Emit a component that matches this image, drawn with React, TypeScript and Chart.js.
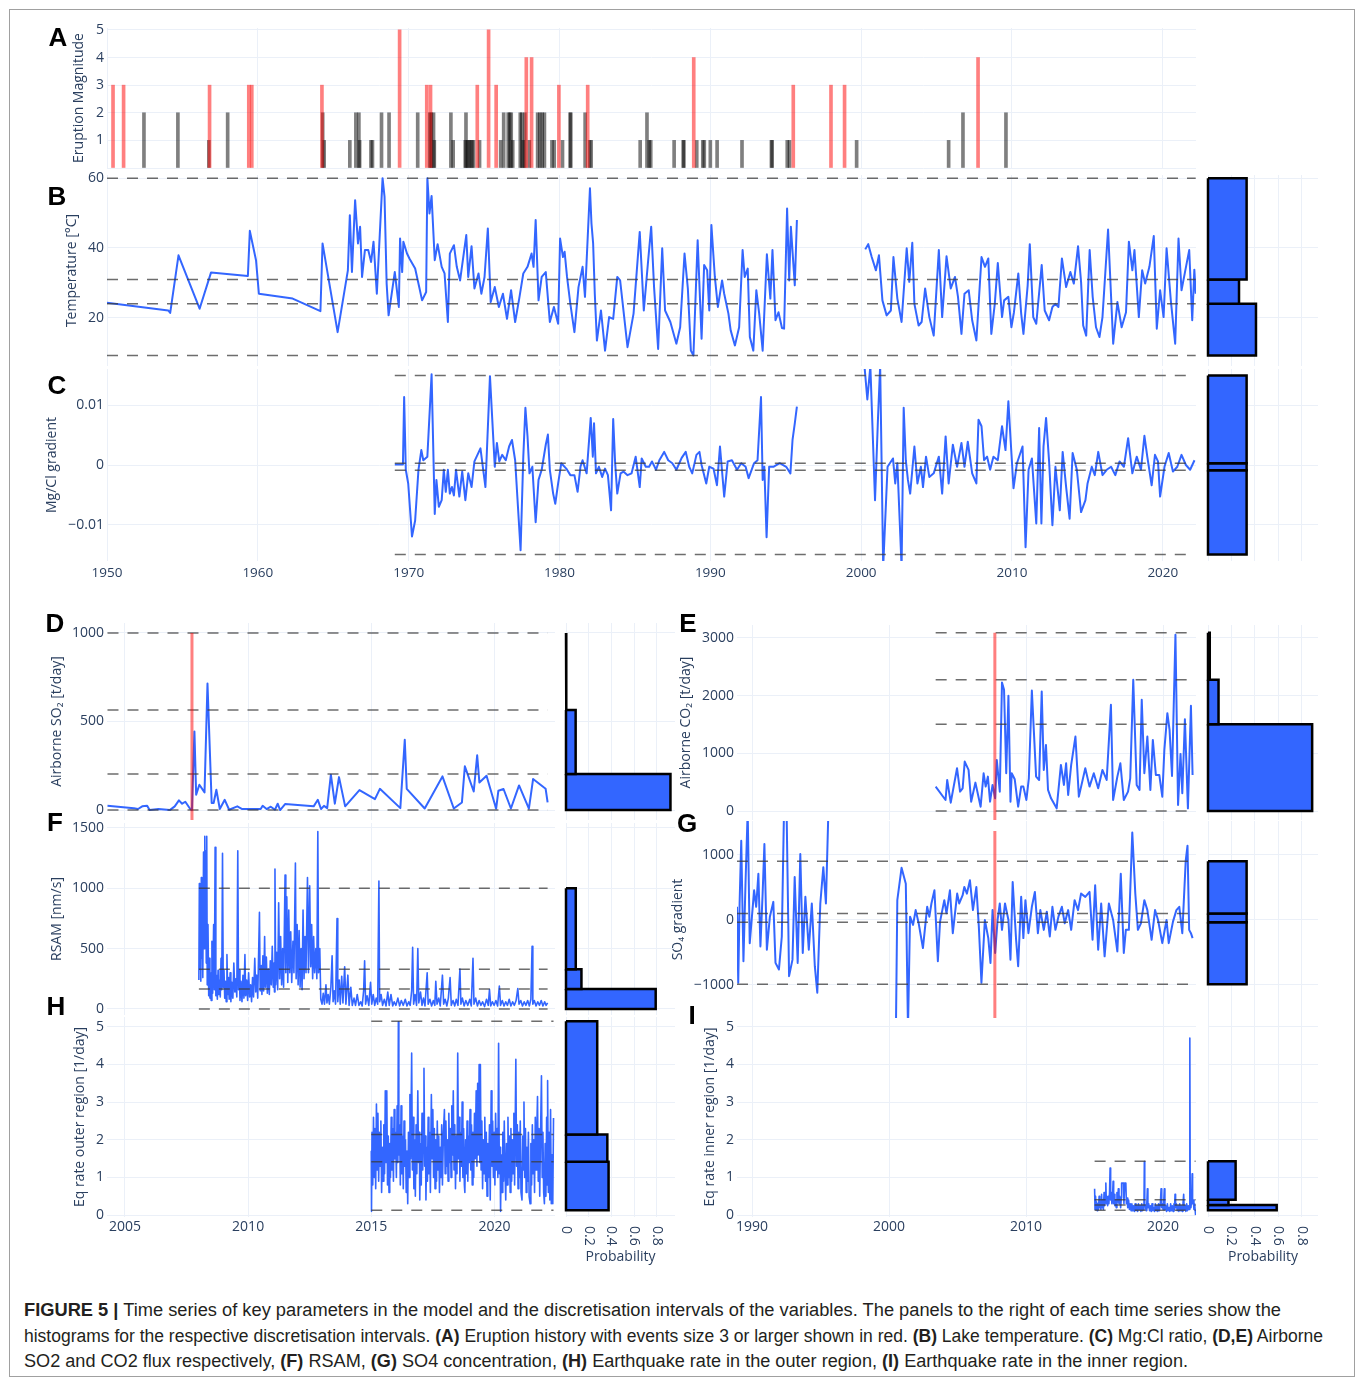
import React, { useEffect, useLayoutEffect, useRef } from "react";
import { Chart, registerables } from "chart.js";

Chart.register(...registerables);

type Pair = [number, number | null];

// ---------------- DATA ----------------
// Panel A: eruption history (year, magnitude)
const eruptionYears = [
  1950.4, 1951.1, 1952.45, 1954.7, 1956.75, 1956.8, 1958.0, 1959.4, 1959.6, 1964.25, 1964.3, 1964.4,
  1966.1, 1966.5, 1966.7, 1966.75, 1967.5, 1967.6, 1968.2, 1968.7, 1969.4, 1970.6, 1971.2, 1971.4,
  1971.45, 1971.5, 1971.65, 1971.7, 1972.8, 1972.95, 1973.75, 1973.8, 1973.9, 1974.0, 1974.1, 1974.2,
  1974.3, 1974.55, 1974.7, 1975.3, 1975.8, 1976.1, 1976.3, 1976.6, 1976.7, 1976.8, 1976.9, 1977.4,
  1977.5, 1977.6, 1977.7, 1977.8, 1978.0, 1978.15, 1978.55, 1978.7, 1978.85, 1979.0, 1979.5, 1979.65,
  1979.96, 1980.2, 1980.7, 1980.75, 1981.7, 1981.87, 1982.0, 1982.1, 1985.35, 1985.8, 1985.95, 1986.05,
  1987.6, 1988.2, 1988.25, 1988.9, 1989.1, 1989.5, 1989.6, 1990.0, 1990.45, 1992.1, 1994.05, 1994.1,
  1995.1, 1995.25, 1995.5, 1998.0, 1998.9, 1999.7, 2005.8, 2006.75, 2007.75, 2009.6,
];
const eruptionMagnitudes = [
  3, 3, 2, 2, 1, 3, 2, 3, 3, 3, 2, 1,
  1, 2, 2, 1, 1, 1, 2, 2, 5, 2, 3, 2,
  3, 2, 2, 1, 2, 1, 1, 2, 1, 1, 1, 1,
  1, 3, 1, 5, 3, 1, 2, 2, 2, 2, 1, 2,
  2, 1, 2, 4, 1, 4, 2, 2, 2, 2, 1, 1,
  3, 1, 2, 2, 2, 3, 1, 1, 1, 2, 1, 1,
  1, 1, 1, 4, 1, 1, 1, 1, 1, 1, 1, 1,
  1, 1, 3, 3, 3, 1, 1, 2, 4, 2,
];

// Panel B: lake temperature [°C]
const temperature: Pair[] = [
  [1950.0, 24.3], [1954.06, 22.1], [1954.19, 21.4], [1954.74, 37.9], [1956.14, 22.6], [1956.9, 33.0],
  [1959.34, 32.0], [1959.47, 44.9], [1959.88, 36.5], [1960.07, 26.9], [1962.31, 25.5], [1964.15, 21.9],
  [1964.29, 41.3], [1965.29, 15.9], [1965.97, 33.6], [1966.1, 49.4], [1966.24, 33.1], [1966.45, 53.7],
  [1966.64, 41.3], [1966.78, 46.1], [1966.91, 31.7], [1967.1, 39.4], [1967.32, 39.4], [1967.51, 36.0],
  [1967.67, 41.8], [1967.89, 26.9], [1968.27, 60.0], [1968.4, 54.7], [1968.54, 29.8], [1968.67, 20.7],
  [1969.08, 33.1], [1969.35, 23.1], [1969.43, 42.7], [1969.57, 33.1], [1969.65, 41.8], [1969.89, 38.4],
  [1970.05, 37.0], [1970.43, 34.1], [1970.7, 28.8], [1970.89, 25.0], [1971.16, 27.4], [1971.24, 60.0],
  [1971.38, 49.9], [1971.52, 54.9], [1971.73, 36.5], [1971.92, 41.1], [1972.19, 34.6], [1972.38, 32.7],
  [1972.6, 18.8], [1972.73, 38.4], [1973.0, 40.8], [1973.19, 34.6], [1973.41, 30.7], [1973.82, 43.7],
  [1973.95, 31.7], [1974.17, 40.5], [1974.36, 28.4], [1974.63, 32.7], [1974.82, 26.9], [1975.03, 31.7],
  [1975.25, 45.6], [1975.44, 24.5], [1975.71, 28.8], [1975.98, 23.1], [1976.25, 26.9], [1976.52, 19.7],
  [1976.79, 27.9], [1977.06, 18.8], [1977.33, 25.5], [1977.6, 32.7], [1977.88, 34.6], [1978.15, 38.4],
  [1978.28, 34.6], [1978.42, 48.0], [1978.61, 25.0], [1978.82, 31.7], [1979.09, 33.1], [1979.36, 18.8],
  [1979.63, 23.1], [1979.91, 18.3], [1980.04, 42.7], [1980.23, 37.4], [1980.34, 38.9], [1980.5, 31.7],
  [1980.72, 24.0], [1980.99, 15.9], [1981.26, 28.8], [1981.53, 34.6], [1981.69, 26.0], [1982.02, 57.1],
  [1982.12, 47.0], [1982.23, 41.3], [1982.34, 26.9], [1982.48, 13.5], [1982.75, 22.1], [1983.02, 10.6],
  [1983.29, 20.2], [1983.56, 19.7], [1983.83, 31.7], [1984.02, 30.7], [1984.51, 11.6], [1984.91, 21.2],
  [1985.32, 44.6], [1985.59, 22.1], [1985.86, 35.5], [1986.08, 46.1], [1986.27, 28.8], [1986.54, 11.1],
  [1986.81, 39.9], [1987.0, 22.1], [1987.35, 18.8], [1987.75, 12.6], [1988.0, 17.3], [1988.29, 38.4],
  [1988.51, 28.4], [1988.71, 10.6], [1988.88, 9.2], [1989.16, 42.2], [1989.42, 14.0], [1989.59, 35.1],
  [1989.79, 33.6], [1989.93, 22.1], [1990.07, 46.6], [1990.3, 31.7], [1990.5, 23.1], [1990.78, 30.7],
  [1990.92, 26.9], [1991.2, 21.2], [1991.35, 16.4], [1991.63, 12.1], [1991.91, 17.3], [1992.14, 39.4],
  [1992.28, 31.7], [1992.48, 34.1], [1992.62, 14.5], [1992.85, 10.6], [1993.05, 27.9], [1993.24, 21.2],
  [1993.47, 10.6], [1993.75, 38.2], [1993.98, 25.5], [1994.12, 39.4], [1994.32, 19.3], [1994.52, 21.6],
  [1994.75, 17.1], [1994.89, 16.9], [1995.09, 51.3], [1995.23, 30.7], [1995.34, 46.1], [1995.6, 29.3],
  [1995.74, 48.0], [1998.0, null],
  [2000.27, 39.6], [2000.47, 41.1], [2000.7, 37.4], [2000.98, 33.6], [2001.18, 37.9], [2001.41, 25.0],
  [2001.69, 20.7], [2001.97, 22.1], [2002.14, 37.4], [2002.4, 25.5], [2002.68, 18.8], [2003.02, 39.9],
  [2003.19, 30.3], [2003.39, 41.5], [2003.53, 24.0], [2003.81, 17.8], [2004.01, 18.8], [2004.24, 28.4],
  [2004.52, 20.2], [2004.81, 14.9], [2005.15, 39.4], [2005.37, 20.2], [2005.66, 37.6], [2005.94, 28.4],
  [2006.22, 31.7], [2006.42, 26.0], [2006.65, 15.4], [2006.85, 26.9], [2007.13, 27.9], [2007.36, 19.3],
  [2007.64, 13.5], [2007.98, 37.4], [2008.21, 34.6], [2008.43, 37.0], [2008.63, 15.4], [2008.86, 24.0],
  [2009.06, 35.7], [2009.34, 20.2], [2009.48, 25.0], [2009.76, 26.0], [2009.96, 17.3], [2010.13, 21.6],
  [2010.42, 32.7], [2010.61, 21.2], [2010.76, 15.4], [2011.04, 29.3], [2011.18, 41.1], [2011.41, 20.2],
  [2011.61, 18.3], [2011.97, 35.1], [2012.17, 22.1], [2012.46, 19.3], [2012.68, 23.1], [2012.88, 24.0],
  [2013.08, 23.1], [2013.31, 37.0], [2013.59, 28.8], [2013.87, 33.1], [2014.1, 29.8], [2014.38, 40.5],
  [2014.58, 30.3], [2014.72, 17.8], [2014.92, 14.9], [2015.15, 39.4], [2015.35, 26.0], [2015.57, 17.3],
  [2015.8, 14.5], [2016.0, 20.2], [2016.37, 45.3], [2016.71, 12.6], [2016.99, 24.5], [2017.27, 17.3],
  [2017.56, 21.6], [2017.75, 41.8], [2017.98, 33.6], [2018.12, 39.4], [2018.41, 20.2], [2018.63, 33.6],
  [2018.83, 29.8], [2019.11, 34.6], [2019.4, 43.4], [2019.6, 16.9], [2019.82, 27.9], [2020.05, 20.2],
  [2020.25, 39.9], [2020.53, 25.0], [2020.82, 12.6], [2021.04, 42.7], [2021.24, 27.9], [2021.47, 33.1],
  [2021.75, 39.4], [2021.95, 19.3], [2022.09, 33.8], [2022.18, 26.9],
];

// Panel C: Mg/Cl gradient
const mgclGradient: Pair[] = [
  [1969.08, 0.0001], [1969.62, 0.0001], [1969.7, 0.0114], [1969.81, -0.0008], [1969.97, -0.0031], [1970.22, -0.012],
  [1970.43, -0.0093], [1970.65, -0.0008], [1970.84, 0.0025], [1970.97, 0.0008], [1971.24, 0.0014], [1971.52, 0.0152],
  [1971.73, -0.0082], [1971.84, -0.0025], [1972.0, -0.007], [1972.19, -0.0059], [1972.33, -0.0008], [1972.46, -0.0045],
  [1972.6, -0.0008], [1972.73, -0.0048], [1972.87, -0.0037], [1973.0, -0.0051], [1973.14, -0.0008], [1973.36, -0.0053],
  [1973.55, -0.0011], [1973.76, -0.0059], [1973.95, -0.0014], [1974.17, -0.0037], [1974.36, 0.0006], [1974.76, 0.0028],
  [1975.09, -0.0037], [1975.39, 0.0149], [1975.71, -0.0003], [1975.85, 0.0037], [1976.01, 0.0006], [1976.2, 0.0017],
  [1976.44, 0.0008], [1976.66, 0.0031], [1976.85, 0.0042], [1977.06, 0.0008], [1977.42, -0.0143], [1977.6, 0.0014],
  [1977.74, 0.0096], [1977.88, 0.0048], [1978.01, -0.0014], [1978.2, -0.0003], [1978.42, -0.0096], [1978.61, -0.0025],
  [1978.82, -0.0008], [1979.09, 0.0034], [1979.23, 0.0051], [1979.36, -0.0008], [1979.58, -0.0048], [1979.72, -0.0065],
  [1979.91, -0.0031], [1980.12, 0.0003], [1980.45, -0.0006], [1980.72, -0.0017], [1980.99, -0.0017], [1981.2, -0.0045],
  [1981.39, -0.0003], [1981.53, 0.0008], [1981.8, -0.0014], [1982.07, 0.0079], [1982.21, 0.0014], [1982.29, 0.007],
  [1982.42, -0.0014], [1982.61, -0.0003], [1982.83, -0.002], [1983.02, -0.0006], [1983.21, -0.0017], [1983.42, -0.0076],
  [1983.56, 0.0077], [1983.69, 0.0003], [1983.83, -0.0048], [1984.05, -0.0014], [1984.24, -0.0011], [1984.51, -0.0017],
  [1984.78, -0.0014], [1985.05, 0.0014], [1985.32, -0.0037], [1985.45, 0.0011], [1985.72, -0.0003], [1985.94, -0.0003],
  [1986.13, 0.0006], [1986.4, -0.0008], [1986.62, 0.0008], [1986.94, 0.0022], [1987.21, 0.0008], [1987.48, 0.0003],
  [1987.75, -0.0008], [1988.1, 0.0012], [1988.37, 0.0022], [1988.6, -0.0003], [1988.8, -0.0014], [1989.08, 0.0017],
  [1989.28, 0.0022], [1989.42, 0.0], [1989.73, -0.0031], [1989.93, -0.0003], [1990.21, -0.0006], [1990.44, -0.0034],
  [1990.64, 0.0031], [1990.92, -0.0053], [1991.15, 0.0006], [1991.43, 0.0008], [1991.77, -0.0008], [1992.05, 0.0003],
  [1992.34, -0.0003], [1992.54, -0.0022], [1992.9, 0.0003], [1993.13, 0.0008], [1993.36, 0.0114], [1993.47, -0.0025],
  [1993.58, -0.0003], [1993.73, -0.0121], [1993.9, -0.0003], [1994.18, -0.0003], [1994.6, 0.0003], [1995.03, -0.0003],
  [1995.31, -0.0014], [1995.45, 0.0042], [1995.6, 0.007], [1995.74, 0.0098], [1998.0, null],
  [2000.22, 0.0166], [2000.41, 0.011], [2000.61, 0.0166], [2000.92, -0.0059], [2001.12, 0.0081], [2001.26, 0.0166],
  [2001.46, -0.0171], [2001.75, -0.0003], [2002.11, 0.0011], [2002.26, -0.0031], [2002.4, 0.0003], [2002.68, -0.0171],
  [2002.82, 0.0096], [2002.96, 0.0008], [2003.1, -0.0025], [2003.25, -0.0048], [2003.53, 0.0031], [2003.73, -0.0031],
  [2003.96, -0.0003], [2004.1, -0.0037], [2004.3, 0.0014], [2004.52, -0.002], [2004.81, -0.0014], [2005.15, 0.0014],
  [2005.37, -0.0048], [2005.6, 0.0048], [2005.8, -0.0031], [2006.08, 0.0034], [2006.36, -0.0003], [2006.65, 0.0037],
  [2006.85, -0.0003], [2007.07, 0.0039], [2007.36, -0.0014], [2007.64, -0.0031], [2007.78, 0.0076], [2007.98, 0.0065],
  [2008.15, 0.0008], [2008.35, 0.0014], [2008.55, -0.0008], [2008.77, 0.0014], [2009.06, 0.0008], [2009.34, 0.0065],
  [2009.57, 0.0025], [2009.76, 0.0107], [2009.91, 0.0042], [2010.1, -0.0039], [2010.33, 0.0003], [2010.7, 0.0031],
  [2010.9, -0.0138], [2011.1, -0.0008], [2011.32, 0.0011], [2011.61, -0.0098], [2011.8, 0.0062], [2011.95, -0.0098],
  [2012.09, 0.0031], [2012.26, 0.0079], [2012.46, 0.0006], [2012.68, -0.0101], [2012.88, -0.0003], [2013.17, -0.0076],
  [2013.36, 0.0022], [2013.59, -0.0037], [2013.82, -0.009], [2014.02, 0.002], [2014.3, -0.0008], [2014.58, -0.0079],
  [2014.87, -0.0059], [2015.01, -0.0031], [2015.29, -0.0003], [2015.49, -0.0017], [2015.72, 0.0022], [2016.0, -0.0017],
  [2016.28, -0.0008], [2016.57, -0.0003], [2016.85, -0.0017], [2017.13, 0.0006], [2017.42, -0.0003], [2017.7, 0.0045],
  [2017.98, -0.0014], [2018.27, 0.0014], [2018.55, -0.0008], [2018.78, 0.0049], [2018.97, 0.0014], [2019.26, -0.0034],
  [2019.48, 0.0017], [2019.68, 0.0006], [2019.82, -0.0053], [2020.11, -0.0003], [2020.39, 0.002], [2020.67, -0.0011],
  [2020.96, -0.0003], [2021.24, 0.0017], [2021.53, 0.0], [2021.81, -0.0008], [2022.1, 0.0008],
];

// Panel D: airborne SO2 [t/day]
const so2Flux: Pair[] = [
  [2004.29, 24], [2005.36, 11], [2005.53, 6], [2005.7, 21], [2005.9, 24], [2006.0, 0], [2006.36, 6], [2006.82, 0],
  [2007.02, 21], [2007.19, 55], [2007.32, 36], [2007.45, 47], [2007.65, 6], [2007.72, 0], [2007.82, 444], [2007.89, 87],
  [2008.02, 143], [2008.23, 100], [2008.35, 714], [2008.52, 40], [2008.6, 40], [2008.71, 115], [2008.85, 6], [2009.05, 58],
  [2009.23, 2], [2009.56, 21], [2009.76, 6], [2010.51, 6], [2010.59, 24], [2010.75, 6], [2010.92, 19], [2011.09, 2],
  [2011.2, 36], [2011.3, 0], [2011.5, 34], [2012.66, 21], [2012.83, 58], [2012.96, 6], [2013.08, 24], [2013.21, 11],
  [2013.36, 200], [2013.52, 36], [2013.69, 186], [2013.94, 21], [2014.52, 113], [2015.15, 62], [2015.35, 120], [2016.18, 11],
  [2016.36, 397], [2016.44, 120], [2017.17, 9], [2017.89, 190], [2018.35, 9], [2018.68, 43], [2018.8, 247], [2019.16, 105],
  [2019.3, 309], [2019.39, 156], [2019.68, 194], [2020.07, 8], [2020.16, 109], [2020.37, 119], [2020.67, 9], [2021.0, 139],
  [2021.4, 8], [2021.57, 175], [2022.08, 120], [2022.16, 43],
];

// Panel F: RSAM [nm/s]
const rsam: Pair[] = [
  [2008.0, 240], [2008.02, 1040], [2008.04, 330], [2008.06, 990], [2008.08, 230], [2008.1, 1090], [2008.12, 420], [2008.14, 880],
  [2008.16, 260], [2008.19, 1300], [2008.21, 500], [2008.24, 1430], [2008.26, 700], [2008.28, 1310], [2008.3, 380], [2008.32, 1430],
  [2008.34, 200], [2008.37, 700], [2008.4, 110], [2008.43, 420], [2008.45, 90], [2008.48, 300], [2008.5, 70], [2008.53, 560],
  [2008.56, 130], [2008.6, 700], [2008.63, 160], [2008.66, 1340], [2008.69, 110], [2008.72, 280], [2008.75, 80], [2008.78, 320],
  [2008.81, 120], [2008.84, 240], [2008.87, 100], [2008.9, 420], [2008.93, 160], [2008.96, 1290], [2008.99, 180], [2009.02, 320],
  [2009.05, 90], [2009.08, 230], [2009.11, 60], [2009.14, 450], [2009.17, 120], [2009.2, 260], [2009.23, 80], [2009.27, 300],
  [2009.3, 60], [2009.34, 220], [2009.38, 90], [2009.42, 380], [2009.46, 140], [2009.5, 250], [2009.54, 100], [2009.58, 1310],
  [2009.61, 160], [2009.64, 320], [2009.67, 70], [2009.71, 230], [2009.75, 60], [2009.79, 280], [2009.83, 90], [2009.87, 450],
  [2009.9, 110], [2009.94, 240], [2009.98, 70], [2010.02, 300], [2010.06, 100], [2010.1, 200], [2010.14, 60], [2010.18, 260],
  [2010.22, 100], [2010.27, 420], [2010.31, 140], [2010.35, 280], [2010.39, 90], [2010.46, 800], [2010.49, 150], [2010.53, 360],
  [2010.56, 120], [2010.6, 440], [2010.63, 150], [2010.67, 600], [2010.7, 180], [2010.74, 430], [2010.78, 130], [2010.82, 330],
  [2010.86, 120], [2010.9, 400], [2010.94, 200], [2010.98, 520], [2011.02, 180], [2011.05, 380], [2011.07, 140], [2011.09, 1160],
  [2011.12, 200], [2011.16, 470], [2011.2, 160], [2011.24, 880], [2011.28, 250], [2011.32, 600], [2011.36, 200], [2011.4, 500],
  [2011.44, 180], [2011.5, 1110], [2011.53, 300], [2011.57, 930], [2011.61, 220], [2011.65, 820], [2011.69, 300], [2011.73, 640],
  [2011.77, 220], [2011.82, 560], [2011.86, 300], [2011.92, 1210], [2011.95, 250], [2011.99, 700], [2012.03, 200], [2012.07, 650],
  [2012.11, 180], [2012.15, 500], [2012.19, 160], [2012.23, 820], [2012.27, 250], [2012.31, 600], [2012.35, 300], [2012.41, 1090],
  [2012.45, 300], [2012.5, 1020], [2012.54, 350], [2012.58, 700], [2012.62, 250], [2012.66, 600], [2012.7, 300], [2012.75, 500],
  [2012.79, 250], [2012.83, 1470], [2012.86, 300], [2012.91, 500], [2012.95, 80], [2013.0, 40], [2013.05, 130], [2013.1, 40],
  [2013.16, 200], [2013.2, 50], [2013.25, 120], [2013.3, 40], [2013.36, 180], [2013.41, 440], [2013.45, 60], [2013.5, 150],
  [2013.55, 40], [2013.61, 750], [2013.64, 60], [2013.7, 240], [2013.74, 40], [2013.8, 270], [2013.85, 50], [2013.92, 350],
  [2013.97, 40], [2014.05, 280], [2014.1, 30], [2014.17, 180], [2014.23, 30], [2014.3, 90], [2014.36, 30], [2014.43, 120],
  [2014.5, 30], [2014.57, 60], [2014.63, 25], [2014.69, 150], [2014.73, 400], [2014.77, 40], [2014.83, 110], [2014.9, 30],
  [2014.97, 220], [2015.02, 40], [2015.08, 120], [2015.14, 30], [2015.2, 90], [2015.26, 40], [2015.31, 1060], [2015.34, 60],
  [2015.4, 120], [2015.46, 30], [2015.53, 80], [2015.6, 25], [2015.67, 140], [2015.73, 30], [2015.8, 120], [2015.87, 25],
  [2015.93, 60], [2016.0, 30], [2016.08, 90], [2016.15, 25], [2016.22, 70], [2016.3, 30], [2016.38, 80], [2016.45, 25],
  [2016.52, 60], [2016.58, 30], [2016.64, 150], [2016.68, 510], [2016.72, 40], [2016.78, 120], [2016.84, 30], [2016.89, 500],
  [2016.93, 50], [2017.0, 140], [2017.06, 30], [2017.12, 90], [2017.18, 25], [2017.27, 300], [2017.31, 40], [2017.38, 80],
  [2017.45, 25], [2017.52, 70], [2017.58, 30], [2017.62, 230], [2017.67, 40], [2017.74, 90], [2017.8, 25], [2017.89, 280],
  [2017.94, 40], [2018.0, 80], [2018.07, 25], [2018.13, 90], [2018.2, 260], [2018.25, 30], [2018.32, 70], [2018.39, 25],
  [2018.45, 80], [2018.52, 30], [2018.6, 330], [2018.64, 40], [2018.7, 90], [2018.77, 25], [2018.84, 70], [2018.92, 30],
  [2019.0, 80], [2019.06, 25], [2019.13, 420], [2019.17, 40], [2019.24, 90], [2019.31, 25], [2019.38, 70], [2019.45, 30],
  [2019.52, 60], [2019.6, 20], [2019.68, 80], [2019.75, 30], [2019.8, 160], [2019.85, 25], [2019.92, 60], [2019.99, 30],
  [2020.06, 70], [2020.13, 25], [2020.2, 190], [2020.25, 30], [2020.32, 70], [2020.39, 25], [2020.46, 60], [2020.53, 30],
  [2020.6, 80], [2020.67, 25], [2020.74, 60], [2020.81, 30], [2020.88, 70], [2020.95, 170], [2021.0, 40], [2021.07, 70],
  [2021.14, 25], [2021.21, 60], [2021.28, 30], [2021.35, 70], [2021.42, 25], [2021.48, 80], [2021.53, 520], [2021.56, 40],
  [2021.62, 70], [2021.69, 25], [2021.76, 60], [2021.83, 30], [2021.9, 70], [2021.97, 25], [2022.04, 60], [2022.1, 30],
  [2022.16, 50],
];

// Panel H: earthquake rate, outer region [1/day]
const eqOuter: Pair[] = [
  [2015.0, 1.7], [2015.01, 0.1], [2015.03, 2.2], [2015.06, 0.8], [2015.09, 2.6], [2015.12, 1.0], [2015.15, 2.3], [2015.18, 0.7],
  [2015.21, 2.95], [2015.24, 1.2], [2015.27, 2.7], [2015.3, 0.9], [2015.33, 2.2], [2015.36, 1.3], [2015.39, 2.5], [2015.42, 0.6],
  [2015.45, 1.8], [2015.48, 0.9], [2015.51, 2.4], [2015.54, 1.1], [2015.57, 3.3], [2015.6, 1.4], [2015.63, 3.3], [2015.66, 0.8],
  [2015.69, 2.1], [2015.72, 0.6], [2015.75, 1.9], [2015.78, 1.0], [2015.81, 2.6], [2015.84, 1.2], [2015.87, 2.3], [2015.9, 0.9],
  [2015.93, 2.8], [2015.96, 1.5], [2015.99, 2.2], [2016.02, 1.0], [2016.05, 2.9], [2016.08, 1.4], [2016.1, 5.13], [2016.12, 1.6],
  [2016.15, 2.4], [2016.18, 0.8], [2016.21, 2.9], [2016.24, 1.1], [2016.27, 2.1], [2016.3, 0.7], [2016.33, 2.5], [2016.36, 1.3],
  [2016.39, 2.0], [2016.42, 0.6], [2016.45, 1.7], [2016.48, 0.3], [2016.51, 2.2], [2016.54, 1.0], [2016.57, 3.2], [2016.6, 1.5],
  [2016.64, 4.3], [2016.67, 1.2], [2016.7, 2.6], [2016.73, 0.7], [2016.76, 2.0], [2016.79, 0.5], [2016.82, 2.4], [2016.85, 1.1],
  [2016.89, 3.3], [2016.92, 1.4], [2016.95, 2.2], [2016.97, 0.4], [2017.0, 1.9], [2017.03, 0.8], [2017.06, 2.7], [2017.09, 1.2],
  [2017.12, 2.4], [2017.14, 3.9], [2017.17, 1.3], [2017.2, 2.1], [2017.22, 0.4], [2017.25, 1.8], [2017.28, 0.9], [2017.31, 2.6],
  [2017.34, 1.1], [2017.37, 2.2], [2017.4, 0.6], [2017.44, 3.2], [2017.47, 1.5], [2017.5, 2.8], [2017.53, 1.0], [2017.56, 2.3],
  [2017.59, 0.7], [2017.62, 2.0], [2017.65, 0.9], [2017.68, 2.5], [2017.71, 1.2], [2017.74, 2.1], [2017.77, 0.6], [2017.8, 1.8],
  [2017.83, 1.0], [2017.86, 2.4], [2017.89, 0.8], [2017.93, 2.2], [2017.97, 2.8], [2018.0, 1.1], [2018.03, 2.5], [2018.06, 1.3],
  [2018.09, 2.0], [2018.12, 0.9], [2018.15, 2.7], [2018.18, 1.4], [2018.21, 2.3], [2018.24, 1.0], [2018.27, 2.9], [2018.3, 1.6],
  [2018.33, 3.3], [2018.36, 1.2], [2018.39, 2.4], [2018.42, 0.7], [2018.45, 2.1], [2018.48, 1.1], [2018.51, 4.3], [2018.54, 1.5],
  [2018.57, 2.6], [2018.6, 0.9], [2018.63, 2.2], [2018.66, 1.3], [2018.69, 3.0], [2018.72, 1.0], [2018.75, 2.3], [2018.78, 0.8],
  [2018.8, 0.6], [2018.83, 2.0], [2018.86, 1.1], [2018.89, 2.5], [2018.92, 0.9], [2018.95, 2.1], [2018.98, 1.4], [2019.01, 2.8],
  [2019.04, 1.2], [2019.07, 2.4], [2019.1, 0.8], [2019.13, 2.2], [2019.16, 1.0], [2019.19, 2.7], [2019.22, 1.5], [2019.26, 3.3],
  [2019.29, 1.3], [2019.32, 3.5], [2019.35, 1.6], [2019.38, 4.0], [2019.41, 1.4], [2019.43, 4.0], [2019.46, 1.2], [2019.49, 2.5],
  [2019.52, 0.7], [2019.55, 2.0], [2019.58, 1.1], [2019.61, 2.6], [2019.64, 0.9], [2019.67, 2.2], [2019.7, 0.5], [2019.73, 1.9],
  [2019.76, 1.0], [2019.8, 2.4], [2019.83, 0.4], [2019.87, 3.3], [2019.9, 1.3], [2019.93, 2.5], [2019.96, 1.0], [2019.99, 2.2],
  [2020.02, 0.8], [2020.05, 2.7], [2020.08, 1.2], [2020.11, 2.3], [2020.14, 1.0], [2020.17, 4.56], [2020.2, 1.1], [2020.23, 1.8],
  [2020.25, 0.1], [2020.28, 1.6], [2020.31, 0.6], [2020.34, 2.2], [2020.37, 0.9], [2020.4, 2.5], [2020.43, 1.2], [2020.46, 0.4],
  [2020.49, 1.9], [2020.52, 0.8], [2020.55, 2.6], [2020.58, 1.0], [2020.61, 2.1], [2020.64, 0.6], [2020.67, 2.3], [2020.7, 0.9],
  [2020.73, 2.0], [2020.76, 1.1], [2020.79, 2.7], [2020.82, 0.8], [2020.87, 4.14], [2020.9, 1.3], [2020.93, 2.4], [2020.96, 0.7],
  [2020.99, 2.2], [2021.02, 1.0], [2021.05, 2.5], [2021.08, 0.6], [2021.12, 0.4], [2021.15, 2.1], [2021.18, 1.2], [2021.2, 3.0],
  [2021.23, 1.0], [2021.26, 2.3], [2021.29, 0.6], [2021.32, 1.8], [2021.35, 0.9], [2021.38, 2.2], [2021.41, 0.5], [2021.45, 0.3],
  [2021.48, 1.9], [2021.51, 0.8], [2021.54, 2.4], [2021.57, 1.1], [2021.6, 2.0], [2021.63, 0.6], [2021.66, 2.6], [2021.69, 1.2],
  [2021.72, 2.2], [2021.75, 3.15], [2021.78, 0.9], [2021.81, 2.3], [2021.84, 0.5], [2021.87, 2.0], [2021.91, 3.7], [2021.94, 1.0],
  [2021.97, 2.2], [2022.0, 0.6], [2022.03, 0.3], [2022.06, 1.9], [2022.09, 0.5], [2022.12, 2.6], [2022.14, 0.8], [2022.16, 3.57],
  [2022.19, 0.6], [2022.22, 2.2], [2022.25, 0.4], [2022.28, 2.8], [2022.31, 0.3], [2022.34, 1.6], [2022.37, 0.3], [2022.4, 2.58],
];

// Panel E: airborne CO2 [t/day]
const co2Flux: Pair[] = [
  [2003.4, 423], [2004.12, 191], [2004.24, 538], [2004.5, 145], [2004.96, 741], [2005.18, 336], [2005.37, 394], [2005.52, 857],
  [2005.8, 712], [2005.99, 162], [2006.3, 492], [2006.68, 75], [2006.9, 654], [2007.05, 423], [2007.21, 596], [2007.37, 162],
  [2007.55, 452], [2007.74, 220], [2007.86, 886], [2008.08, 336], [2008.24, 2229], [2008.39, 2102], [2008.55, 654], [2008.71, 1998],
  [2008.86, 162], [2008.95, 654], [2009.17, 550], [2009.42, 75], [2009.64, 423], [2009.8, 423], [2010.02, 191], [2010.2, 567],
  [2010.42, 2090], [2010.73, 596], [2010.95, 538], [2011.14, 2073], [2011.29, 712], [2011.45, 1146], [2011.6, 365], [2011.82, 220],
  [2012.23, 46], [2012.54, 799], [2012.76, 452], [2012.92, 828], [2013.07, 278], [2013.29, 799], [2013.6, 1291], [2013.85, 249],
  [2014.32, 741], [2014.63, 423], [2014.94, 654], [2015.26, 394], [2015.57, 712], [2015.88, 538], [2016.19, 1841], [2016.35, 191],
  [2016.66, 596], [2016.88, 828], [2017.13, 191], [2017.44, 336], [2017.6, 567], [2017.82, 2275], [2018.07, 452], [2018.28, 365],
  [2018.44, 1928], [2018.63, 654], [2018.85, 1291], [2019.07, 365], [2019.25, 1233], [2019.47, 625], [2019.72, 625], [2019.94, 249],
  [2020.09, 1060], [2020.31, 1696], [2020.47, 1407], [2020.65, 608], [2020.9, 3057], [2021.09, 104], [2021.27, 990], [2021.4, 307],
  [2021.59, 1592], [2021.81, 46], [2022.03, 1824], [2022.15, 625],
];

// Panel G: SO4 gradient
const so4Gradient: Pair[] = [
  [1988.9, 203], [1988.99, -965], [1989.09, 254], [1989.21, 1219], [1989.37, -635], [1989.52, 559], [1989.68, 1676], [1989.83, -356],
  [1989.99, 51], [1990.15, 457], [1990.3, 203], [1990.46, 711], [1990.61, -406], [1990.77, 406], [1990.9, 1168], [1991.08, -457],
  [1991.3, 51], [1991.55, 279], [1991.71, -660], [1991.96, -762], [1992.17, -254], [1992.33, 1676], [1992.52, 1676], [1992.7, -864],
  [1992.95, -610], [1993.11, 660], [1993.33, -660], [1993.52, 1016], [1993.7, -508], [1993.89, 356], [1994.14, -457], [1994.36, 254],
  [1994.58, -711], [1994.76, -1118], [1994.98, 254], [1995.2, 813], [1995.39, 254], [1995.57, 1676], [1998.0, null],
  [2000.5, -1676], [2000.6, 305], [2000.91, 803], [2001.22, 559], [2001.38, -1676], [2001.53, 51], [2001.75, -76], [2001.94, 152],
  [2002.16, -51], [2002.47, -432], [2002.78, 203], [2002.94, 51], [2003.09, 254], [2003.31, 457], [2003.56, -635], [2003.72, -25],
  [2004.03, 305], [2004.19, 102], [2004.44, 457], [2004.65, -203], [2004.97, 406], [2005.12, 254], [2005.37, 381], [2005.49, 508],
  [2005.68, 406], [2005.9, 610], [2006.12, 152], [2006.37, 508], [2006.55, -102], [2006.74, -965], [2006.99, 0], [2007.24, -279],
  [2007.4, -660], [2007.55, 152], [2007.74, -508], [2007.92, 0], [2008.08, 254], [2008.24, -152], [2008.46, 254], [2008.71, 0],
  [2008.86, -610], [2009.02, 584], [2009.27, -305], [2009.42, -711], [2009.64, 356], [2009.8, -279], [2009.95, 305], [2010.17, -203],
  [2010.42, 203], [2010.64, 432], [2010.86, -203], [2011.04, 152], [2011.29, -152], [2011.51, 127], [2011.73, -254], [2011.92, 203],
  [2012.14, -152], [2012.36, 51], [2012.61, 203], [2012.82, -51], [2013.07, 152], [2013.29, -152], [2013.54, 305], [2013.79, 152],
  [2014.01, 406], [2014.32, 356], [2014.63, 432], [2014.85, -305], [2015.04, 533], [2015.26, -457], [2015.48, 254], [2015.73, -559],
  [2016.04, 254], [2016.35, 0], [2016.66, -483], [2016.91, 711], [2017.13, -508], [2017.28, -152], [2017.5, -152], [2017.75, 1346],
  [2017.97, 406], [2018.16, -152], [2018.38, -51], [2018.63, 305], [2018.85, 152], [2019.16, -305], [2019.41, 152], [2019.63, 0],
  [2019.94, -356], [2020.25, 0], [2020.41, -356], [2020.72, -25], [2020.97, 152], [2021.18, 203], [2021.4, -203], [2021.65, 914],
  [2021.78, 1143], [2021.9, -152], [2022.03, -203], [2022.15, -279],
];

// Panel I: earthquake rate, inner region [1/day]
const eqInner: Pair[] = [
  [2015.0, 0.7], [2015.03, 0.15], [2015.07, 0.5], [2015.11, 0.15], [2015.15, 0.35], [2015.19, 0.12], [2015.24, 0.3], [2015.28, 0.15],
  [2015.33, 0.5], [2015.37, 0.2], [2015.42, 0.3], [2015.46, 0.15], [2015.51, 0.55], [2015.55, 0.2], [2015.6, 0.4], [2015.64, 0.15],
  [2015.69, 0.6], [2015.73, 0.25], [2015.78, 0.5], [2015.82, 0.85], [2015.86, 0.3], [2015.9, 0.5], [2015.95, 0.25], [2016.0, 0.5],
  [2016.04, 0.3], [2016.09, 0.6], [2016.13, 1.25], [2016.17, 0.4], [2016.22, 0.6], [2016.26, 0.3], [2016.31, 0.5], [2016.35, 0.9],
  [2016.39, 0.3], [2016.44, 0.55], [2016.48, 0.25], [2016.53, 0.4], [2016.58, 0.2], [2016.63, 0.6], [2016.68, 0.35], [2016.73, 0.7],
  [2016.78, 0.3], [2016.84, 0.5], [2016.9, 0.2], [2016.95, 0.45], [2016.97, 0.85], [2017.1, 0.85], [2017.14, 0.3], [2017.2, 0.85],
  [2017.28, 0.85], [2017.32, 0.3], [2017.37, 0.45], [2017.42, 0.2], [2017.48, 0.4], [2017.54, 0.15], [2017.6, 0.3], [2017.66, 0.12],
  [2017.72, 0.3], [2017.78, 0.12], [2017.84, 0.25], [2017.9, 0.1], [2017.96, 0.3], [2018.02, 0.12], [2018.08, 0.25], [2018.14, 0.1],
  [2018.2, 0.3], [2018.26, 0.15], [2018.32, 0.25], [2018.38, 0.1], [2018.44, 0.3], [2018.5, 0.12], [2018.56, 0.25], [2018.6, 0.15],
  [2018.63, 1.42], [2018.66, 0.3], [2018.71, 0.25], [2018.76, 0.12], [2018.81, 0.3], [2018.85, 0.7], [2018.89, 0.2], [2018.95, 0.3],
  [2019.01, 0.12], [2019.07, 0.25], [2019.13, 0.1], [2019.19, 0.3], [2019.25, 0.12], [2019.31, 0.2], [2019.37, 0.1], [2019.43, 0.3],
  [2019.49, 0.12], [2019.55, 0.25], [2019.61, 0.1], [2019.67, 0.3], [2019.73, 0.12], [2019.8, 0.3], [2019.85, 0.7], [2019.9, 0.2],
  [2019.95, 0.3], [2020.0, 0.15], [2020.05, 0.4], [2020.09, 0.7], [2020.13, 0.15], [2020.19, 0.25], [2020.25, 0.1], [2020.31, 0.3],
  [2020.37, 0.12], [2020.43, 0.2], [2020.49, 0.1], [2020.55, 0.3], [2020.61, 0.12], [2020.67, 0.25], [2020.73, 0.1], [2020.79, 0.3],
  [2020.83, 0.15], [2020.87, 0.55], [2020.91, 0.2], [2020.97, 0.3], [2021.03, 0.12], [2021.09, 0.25], [2021.15, 0.1], [2021.21, 0.3],
  [2021.27, 0.12], [2021.33, 0.25], [2021.39, 0.1], [2021.45, 0.3], [2021.5, 0.55], [2021.54, 0.15], [2021.6, 0.25], [2021.66, 0.1],
  [2021.72, 0.3], [2021.78, 0.12], [2021.84, 0.25], [2021.9, 0.15], [2021.94, 0.3], [2021.96, 4.7], [2021.98, 0.3], [2022.03, 0.2],
  [2022.08, 0.4], [2022.12, 1.1], [2022.15, 0.3], [2022.2, 0.4], [2022.25, 0.15], [2022.3, 0.3], [2022.37, 0.0],
];

// Discretisation interval edges and histogram probabilities
const tempEdges = [60, 31, 24, 9.2];
const tempProbs = [0.33, 0.265, 0.41];
const mgclEdges = [0.015, 0.0003, -0.0009, -0.015];
const mgclProbs = [0.33, 0.33, 0.33];
const so2Edges = [1000, 565, 203, 0];
const so2Probs = [0.005, 0.085, 0.92];
const rsamEdges = [1000, 330, 165, 0];
const rsamProbs = [0.086, 0.136, 0.79];
const eqOuterEdges = [5.15, 2.14, 1.42, 0.13];
const eqOuterProbs = [0.275, 0.364, 0.375];
const co2Edges = [3090, 2275, 1505, 0];
const co2Probs = [0.015, 0.09, 0.89];
const so4Edges = [905, 100, -35, -990];
const so4Probs = [0.33, 0.33, 0.33];
const eqInnerEdges = [1.43, 0.41, 0.27, 0.13];
const eqInnerProbs = [0.236, 0.175, 0.587];

// 2007 eruption marker
const markerYear = 2007.72;
const markerTopSO2 = 1000;
const markerTopCO2 = 3090;
const markerTopSO4 = 1370;

// Tick values
const ticksTopX = [1950, 1960, 1970, 1980, 1990, 2000, 2010, 2020];
const ticksLeftX = [2005, 2010, 2015, 2020];
const ticksRightX = [1990, 2000, 2010, 2020];
const probTicks = [0, 0.2, 0.4, 0.6, 0.8];
const ticksA = [0, 1, 2, 3, 4, 5];
const ticksB = [20, 40, 60];
const ticksC = [-0.01, 0, 0.01];
const ticksD = [0, 500, 1000];
const ticksF = [0, 500, 1000, 1500];
const ticksH = [0, 1, 2, 3, 4, 5];
const ticksE = [0, 1000, 2000, 3000];
const ticksG = [-1000, 0, 1000];

// ---------------- STYLE ----------------
const FONT = "'Open Sans', 'Noto Sans', sans-serif";
const TXT = "#2a3f5f";
const GRID = "#ebf0f8";
const BLUE = "#3366ff";
const RED = "rgba(255,0,0,0.5)";
const GREYBAR = "rgba(0,0,0,0.5)";
const DASH = "rgba(60,60,60,0.75)";

type Frame = { L: number; T: number; R: number; B: number; ml: number; mt: number; mr: number; mb: number };

const fmt = (v: number) => {
  const s = String(Math.round(v * 1e6) / 1e6);
  return v < 0 ? "\u2212" + s.slice(1) : s;
};

const toXY = (a: Pair[]) => a.map(([x, y]) => ({ x, y }));

const seriesDs = (a: Pair[], w = 2) => ({
  data: toXY(a),
  borderColor: BLUE,
  borderWidth: w,
  pointRadius: 0,
  spanGaps: false,
  fill: false,
  borderJoinStyle: "round",
  order: 3,
});

const dashDs = (edges: number[], a: Pair[]) => {
  const x0 = a[0][0];
  const x1 = a[a.length - 1][0];
  return edges.map((e) => ({
    data: [{ x: x0, y: e }, { x: x1, y: e }],
    borderColor: DASH,
    borderWidth: 1.5,
    borderDash: [11, 9],
    pointRadius: 0,
    fill: false,
    order: 2,
  }));
};

const markerDs = (top: number, bottom: number) => ({
  data: [{ x: markerYear, y: bottom }, { x: markerYear, y: top }],
  borderColor: RED,
  borderWidth: 3,
  pointRadius: 0,
  fill: false,
  order: 1,
});

const histDs = (edges: number[], probs: number[]) =>
  probs.map((p, i) => {
    const hi = edges[i];
    const lo = edges[i + 1];
    return {
      data: [{ x: 0, y: hi }, { x: p, y: hi }, { x: p, y: lo }, { x: 0, y: lo }, { x: 0, y: hi }],
      borderColor: "#000",
      backgroundColor: BLUE,
      borderWidth: 2.5,
      pointRadius: 0,
      fill: "shape",
      clip: false,
      order: 1,
    };
  });

function xAxis(o: { min: number; max: number; ticks: number[]; f: Frame; show?: boolean; size?: number; pad?: number; title?: string }) {
  return {
    type: "linear",
    position: "bottom",
    min: o.min,
    max: o.max,
    bounds: "data",
    offset: false,
    afterBuildTicks: (s: any) => {
      s.ticks = o.ticks.map((v) => ({ value: v }));
    },
    afterFit: (s: any) => {
      s.height = o.f.mb;
      s.paddingLeft = 0;
      s.paddingRight = 0;
      s.paddingTop = 0;
      s.paddingBottom = 0;
    },
    grid: { color: GRID, lineWidth: 1, drawTicks: false, offset: false },
    border: { display: false },
    ticks: {
      display: !!o.show,
      padding: o.pad ?? 3,
      color: TXT,
      font: { family: FONT, size: o.size ?? 14 },
      maxRotation: 0,
      minRotation: 0,
      autoSkip: false,
      callback: (v: number) => fmt(v),
    },
    title: o.title
      ? { display: true, text: o.title, color: TXT, font: { family: FONT, size: 14 }, padding: 0 }
      : { display: false },
  };
}

function yAxis(o: { min: number; max: number; ticks: number[]; f: Frame; show?: boolean; size?: number; title?: string; hideZero?: boolean }) {
  return {
    type: "linear",
    position: "left",
    min: o.min,
    max: o.max,
    bounds: "data",
    afterBuildTicks: (s: any) => {
      s.ticks = o.ticks.map((v) => ({ value: v }));
    },
    afterFit: (s: any) => {
      s.width = o.f.ml;
      s.paddingLeft = 0;
      s.paddingRight = 0;
      s.paddingTop = 0;
      s.paddingBottom = 0;
    },
    grid: { color: GRID, lineWidth: 1, drawTicks: false },
    border: { display: false },
    ticks: {
      display: !!o.show,
      padding: 3,
      color: TXT,
      font: { family: FONT, size: o.size ?? 14 },
      autoSkip: false,
      callback: (v: number) => (o.hideZero && v === 0 ? "" : fmt(v)),
    },
    title: o.title
      ? { display: true, text: o.title, color: TXT, font: { family: FONT, size: 14 }, padding: 0 }
      : { display: false },
  };
}

function baseOptions(f: Frame, scales: any) {
  return {
    responsive: false,
    maintainAspectRatio: false,
    animation: false,
    devicePixelRatio: 1,
    events: [],
    layout: { autoPadding: false, padding: { left: 0, top: f.mt, right: f.mr, bottom: 0 } },
    plugins: { legend: { display: false }, tooltip: { enabled: false }, title: { display: false } },
    scales,
  };
}

const rotatedProbLabels = {
  id: "rotatedProbLabels",
  afterDraw(chart: any) {
    const s = chart.scales.x;
    const ctx = chart.ctx;
    ctx.save();
    ctx.fillStyle = TXT;
    ctx.font = `14px ${FONT}`;
    ctx.textAlign = "left";
    ctx.textBaseline = "middle";
    probTicks.forEach((v) => {
      const x = s.getPixelForValue(v);
      ctx.save();
      ctx.translate(x, chart.chartArea.bottom + 9);
      ctx.rotate(Math.PI / 2);
      ctx.fillText(fmt(v), 0, 0);
      ctx.restore();
    });
    ctx.restore();
  },
};

// ---------------- FRAMES (plot areas in page pixels) ----------------
const FA: Frame = { L: 107, T: 28, R: 1196, B: 168, ml: 36, mt: 12, mr: 4, mb: 3 };
const FB: Frame = { L: 107, T: 175, R: 1196, B: 366, ml: 43, mt: 8, mr: 4, mb: 2 };
const FC: Frame = { L: 107, T: 369, R: 1196, B: 561, ml: 63, mt: 4, mr: 4, mb: 30 };
const FD: Frame = { L: 107, T: 623, R: 555, B: 820, ml: 58, mt: 12, mr: 4, mb: 2 };
const FF: Frame = { L: 107, T: 823, R: 555, B: 1015, ml: 58, mt: 10, mr: 4, mb: 2 };
const FH: Frame = { L: 107, T: 1017, R: 555, B: 1217, ml: 35, mt: 10, mr: 6, mb: 25 };
const FE: Frame = { L: 737, T: 625, R: 1196, B: 820, ml: 59, mt: 12, mr: 4, mb: 2 };
const FG: Frame = { L: 737, T: 821, R: 1196, B: 1018, ml: 67, mt: 8, mr: 4, mb: 2 };
const FI: Frame = { L: 737, T: 1017, R: 1196, B: 1217, ml: 35, mt: 10, mr: 6, mb: 25 };
const hf = (T: number, B: number, L: number, R: number, mb = 4): Frame => ({ L, T, R, B, ml: 4, mt: 4, mr: 4, mb });
const FBh = hf(175, 366, 1208, 1318);
const FCh = hf(369, 561, 1208, 1318);
const FDh = hf(623, 820, 566, 675);
const FFh = hf(823, 1015, 566, 675);
const FHh = hf(1017, 1217, 566, 675, 48);
const FEh = hf(625, 820, 1208, 1318);
const FGh = hf(821, 1018, 1208, 1318);
const FIh = hf(1017, 1217, 1208, 1318, 48);

const rangeTop: [number, number] = [1950, 2022.2];
const rangeLeft: [number, number] = [2004.27, 2022.46];
const rangeRight: [number, number] = [1988.9, 2022.4];
const histLeftMax = 0.96;
const histRightMax = 0.94;

function lineChart(f: Frame, datasets: any[], x: any, y: any, plugins: any[] = []) {
  return { type: "line", data: { datasets }, options: baseOptions(f, { x, y }), plugins };
}

function histChart(f: Frame, edges: number[], probs: number[], ymin: number, ymax: number, yt: number[], xmax: number, bottom: boolean) {
  return lineChart(
    f,
    histDs(edges, probs),
    xAxis({ min: 0, max: xmax, ticks: probTicks, f, title: bottom ? "Probability" : undefined }),
    yAxis({ min: ymin, max: ymax, ticks: yt, f }),
    bottom ? [rotatedProbLabels] : []
  );
}

const eruptionPoints = eruptionYears.map((x, i) => ({ x, y: eruptionMagnitudes[i] }));

const panels: { f: Frame; make: () => any }[] = [
  {
    f: FA,
    make: () => ({
      type: "bar",
      data: {
        datasets: [
          { data: eruptionPoints.filter((p) => p.y >= 3), backgroundColor: RED, barThickness: 3, grouped: false, order: 1 },
          { data: eruptionPoints.filter((p) => p.y < 3), backgroundColor: GREYBAR, barThickness: 3, grouped: false, order: 2 },
        ],
      },
      options: baseOptions(FA, {
        x: xAxis({ min: rangeTop[0], max: rangeTop[1], ticks: ticksTopX, f: FA }),
        y: yAxis({ min: 0, max: 5.07, ticks: ticksA, f: FA, show: true, size: 14, title: "Eruption Magnitude", hideZero: true }),
      }),
    }),
  },
  {
    f: FB,
    make: () =>
      lineChart(
        FB,
        [...dashDs(tempEdges, temperature), seriesDs(temperature)],
        xAxis({ min: rangeTop[0], max: rangeTop[1], ticks: ticksTopX, f: FB }),
        yAxis({ min: 6.2, max: 60.9, ticks: ticksB, f: FB, show: true, size: 14, title: "Temperature [°C]" })
      ),
  },
  {
    f: FC,
    make: () =>
      lineChart(
        FC,
        [...dashDs(mgclEdges, mgclGradient), seriesDs(mgclGradient)],
        xAxis({ min: rangeTop[0], max: rangeTop[1], ticks: ticksTopX, f: FC, show: true, size: 13.5, pad: 4 }),
        yAxis({ min: -0.0161, max: 0.0161, ticks: ticksC, f: FC, show: true, size: 14, title: "Mg/Cl gradient" })
      ),
  },
  {
    f: FD,
    make: () =>
      lineChart(
        FD,
        [markerDs(markerTopSO2, -500), ...dashDs(so2Edges, so2Flux), seriesDs(so2Flux)],
        xAxis({ min: rangeLeft[0], max: rangeLeft[1], ticks: ticksLeftX, f: FD }),
        yAxis({ min: -56, max: 1056, ticks: ticksD, f: FD, show: true, title: "Airborne SO\u2082 [t/day]" })
      ),
  },
  {
    f: FF,
    make: () =>
      lineChart(
        FF,
        [...dashDs(rsamEdges, rsam), seriesDs(rsam, 1.6)],
        xAxis({ min: rangeLeft[0], max: rangeLeft[1], ticks: ticksLeftX, f: FF }),
        yAxis({ min: -50, max: 1541, ticks: ticksF, f: FF, show: true, title: "RSAM [nm/s]" })
      ),
  },
  {
    f: FH,
    make: () =>
      lineChart(
        FH,
        [...dashDs(eqOuterEdges, eqOuter), seriesDs(eqOuter, 1.6)],
        xAxis({ min: rangeLeft[0], max: rangeLeft[1], ticks: ticksLeftX, f: FH, show: true, pad: 2 }),
        yAxis({ min: -0.05, max: 5.26, ticks: ticksH, f: FH, show: true, title: "Eq rate outer region [1/day]" })
      ),
  },
  {
    f: FE,
    make: () =>
      lineChart(
        FE,
        [markerDs(markerTopCO2, -2000), ...dashDs(co2Edges, co2Flux), seriesDs(co2Flux)],
        xAxis({ min: rangeRight[0], max: rangeRight[1], ticks: ticksRightX, f: FE }),
        yAxis({ min: -156, max: 3225, ticks: ticksE, f: FE, show: true, title: "Airborne CO\u2082 [t/day]" })
      ),
  },
  {
    f: FG,
    make: () =>
      lineChart(
        FG,
        [markerDs(markerTopSO4, -5000), ...dashDs(so4Edges, so4Gradient), seriesDs(so4Gradient)],
        xAxis({ min: rangeRight[0], max: rangeRight[1], ticks: ticksRightX, f: FG }),
        yAxis({ min: -1508, max: 1523, ticks: ticksG, f: FG, show: true, title: "SO\u2084 gradient" })
      ),
  },
  {
    f: FI,
    make: () =>
      lineChart(
        FI,
        [...dashDs(eqInnerEdges, eqInner), seriesDs(eqInner, 1.6)],
        xAxis({ min: rangeRight[0], max: rangeRight[1], ticks: ticksRightX, f: FI, show: true, pad: 2 }),
        yAxis({ min: -0.05, max: 5.26, ticks: ticksH, f: FI, show: true, title: "Eq rate inner region [1/day]" })
      ),
  },
  { f: FBh, make: () => histChart(FBh, tempEdges, tempProbs, 6.2, 60.9, ticksB, histRightMax, false) },
  { f: FCh, make: () => histChart(FCh, mgclEdges, mgclProbs, -0.0161, 0.0161, ticksC, histRightMax, false) },
  { f: FDh, make: () => histChart(FDh, so2Edges, so2Probs, -56, 1056, ticksD, histLeftMax, false) },
  { f: FFh, make: () => histChart(FFh, rsamEdges, rsamProbs, -50, 1541, ticksF, histLeftMax, false) },
  { f: FHh, make: () => histChart(FHh, eqOuterEdges, eqOuterProbs, -0.05, 5.26, ticksH, histLeftMax, true) },
  { f: FEh, make: () => histChart(FEh, co2Edges, co2Probs, -156, 3225, ticksE, histRightMax, false) },
  { f: FGh, make: () => histChart(FGh, so4Edges, so4Probs, -1508, 1523, ticksG, histRightMax, false) },
  { f: FIh, make: () => histChart(FIh, eqInnerEdges, eqInnerProbs, -0.05, 5.26, ticksH, histRightMax, true) },
];

function ChartCanvas({ f, make }: { f: Frame; make: () => any }) {
  const ref = useRef<HTMLCanvasElement | null>(null);
  const w = f.R - f.L + f.ml + f.mr;
  const h = f.B - f.T + f.mt + f.mb;
  useEffect(() => {
    const chart = new Chart(ref.current as HTMLCanvasElement, make());
    return () => chart.destroy();
  }, []);
  return (
    <canvas
      ref={ref}
      width={w}
      height={h}
      style={{ position: "absolute", left: f.L - f.ml, top: f.T - f.mt, width: w, height: h }}
    />
  );
}

const panelLetters: [string, number, number][] = [
  ["A", 58, 36.5],
  ["B", 57, 195.5],
  ["C", 57, 384.5],
  ["D", 55, 622.5],
  ["F", 55, 822],
  ["H", 56, 1006],
  ["E", 688, 622.5],
  ["G", 687, 823],
  ["I", 692, 1015],
];

function CaptionLine({ top, width, children }: { top: number; width: number; children: any }) {
  const ref = useRef<HTMLDivElement | null>(null);
  useLayoutEffect(() => {
    const el = ref.current as HTMLDivElement;
    el.style.transform = "none";
    const w = el.getBoundingClientRect().width;
    if (w > 0) el.style.transform = `scaleX(${width / w})`;
  }, []);
  return (
    <div
      ref={ref}
      style={{
        position: "absolute",
        left: 24,
        top,
        whiteSpace: "nowrap",
        fontFamily: "'Liberation Sans', Arial, sans-serif",
        fontSize: 18,
        lineHeight: "18px",
        color: "#231f20",
        transformOrigin: "left center",
      }}
    >
      {children}
    </div>
  );
}

export default function App() {
  return (
    <div style={{ position: "absolute", left: 0, top: 0, width: 1355, height: 1378, background: "#fff", overflow: "hidden" }}>
      <div style={{ position: "absolute", left: 9, top: 9, width: 1344, height: 1366, border: "1px solid #a0a0a0" }} />
      {panels.map((p, i) => (
        <ChartCanvas key={i} f={p.f} make={p.make} />
      ))}
      {panelLetters.map(([t, cx, cy]) => (
        <div
          key={t}
          style={{
            position: "absolute",
            left: cx - 20,
            top: cy - 12.7,
            width: 40,
            textAlign: "center",
            fontFamily: "'Liberation Sans', Arial, sans-serif",
            fontWeight: "bold",
            fontSize: 26,
            lineHeight: "26px",
            color: "#000",
          }}
        >
          {t}
        </div>
      ))}
      <CaptionLine top={1300.5} width={1257}>
        <b>FIGURE 5 |</b> Time series of key parameters in the model and the discretisation intervals of the variables. The panels to the right of each time series show the
      </CaptionLine>
      <CaptionLine top={1326.5} width={1299}>
        histograms for the respective discretisation intervals. <b>(A)</b> Eruption history with events size 3 or larger shown in red. <b>(B)</b> Lake
        temperature. <b>(C)</b> Mg:Cl ratio, <b>(D,E)</b> Airborne
      </CaptionLine>
      <CaptionLine top={1352} width={1164}>
        SO2 and CO2 flux respectively, <b>(F)</b> RSAM, <b>(G)</b> SO4 concentration, <b>(H)</b> Earthquake rate in the outer region, <b>(I)</b>{" "}
        Earthquake rate in the inner region.
      </CaptionLine>
    </div>
  );
}
